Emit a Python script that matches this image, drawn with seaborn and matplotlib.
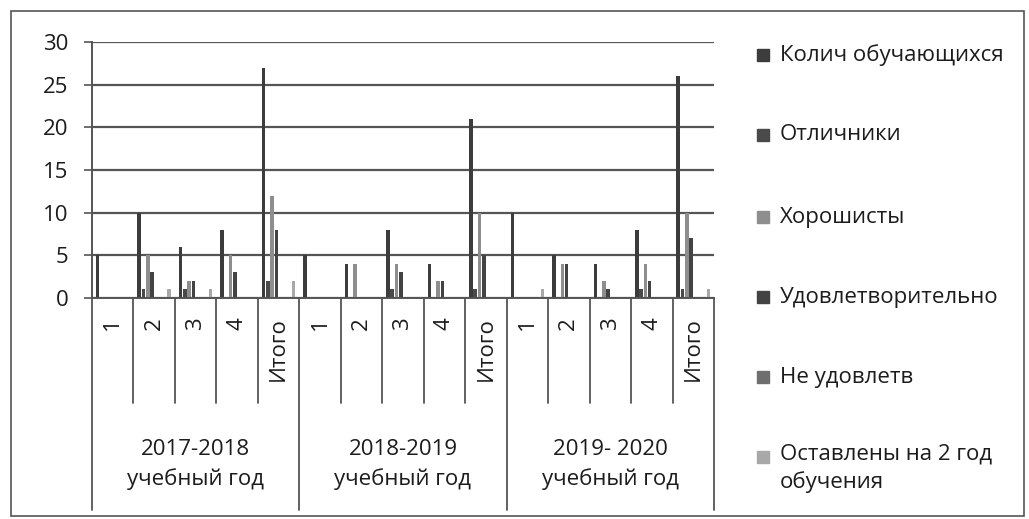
import numpy as np
import pandas as pd
import seaborn as sns
import matplotlib.pyplot as plt
import matplotlib.transforms as mtransforms
from matplotlib.patches import Rectangle

years = ['2017-2018\nучебный год', '2018-2019\nучебный год', '2019- 2020\nучебный год']
classes = ['1', '2', '3', '4', 'Итого']
series = ['Колич обучающихся', 'Отличники', 'Хорошисты', 'Удовлетворительно',
          'Не удовлетв', 'Оставлены на 2 год\nобучения']

count = [5, 10, 6, 8, 27, 5, 4, 8, 4, 21, 10, 5, 4, 8, 26]
excellent = [0, 1, 1, 0, 2, 0, 0, 1, 0, 1, 0, 0, 0, 1, 1]
good = [0, 5, 2, 5, 12, 0, 4, 4, 2, 10, 0, 4, 2, 4, 10]
satisf = [0, 3, 2, 3, 8, 0, 0, 3, 2, 5, 0, 4, 1, 2, 7]
unsatisf = [0, 0, 0, 0, 0, 0, 0, 0, 0, 0, 0, 0, 0, 0, 0]
retained = [0, 1, 1, 0, 2, 0, 0, 0, 0, 0, 1, 0, 0, 0, 1]

colors = ['#3c3c3c', '#4a4a4a', '#8e8e8e', '#434343', '#6e6e6e', '#a8a8a8']
# Excel leaves 8 bar slots per category; the last series sits in the last one
slots = [0, 1, 2, 3, 4, 7]

keys = [f'{y}|{c}' for y in years for c in classes]
values = [count, excellent, good, satisf, unsatisf, retained]
df = pd.DataFrame({
    'cat': keys * len(series),
    'series': np.repeat(series, len(keys)),
    'value': np.concatenate(values),
})

sns.set_theme(style='white')
plt.rcParams['font.family'] = ['Open Sans', 'DejaVu Sans']
fs = 16
txt = '#1c1c1c'

fig = plt.figure(figsize=(10.29, 5.19), dpi=100)
W, H = 1029, 519
ax = fig.add_axes([92 / W, 1 - 298 / H, 622 / W, 256 / H])

sns.barplot(data=df, x='cat', y='value', hue='series', order=keys, hue_order=series,
            palette=colors, saturation=1, legend=False, ax=ax)

step = 0.83 / 8
bw = 0.085
for cont, slot in zip(ax.containers, slots):
    for p in cont.patches:
        j = round(p.get_x() + p.get_width() / 2)
        p.set_x(j + (slot - 3.5) * step - bw / 2)
        p.set_width(bw)
        p.set_edgecolor('none')

ax.set_xlim(-0.5, len(keys) - 0.5)
ax.set_ylim(0, 30)
ax.set_yticks(range(0, 31, 5))
ax.yaxis.grid(True, color='#555555', lw=1.6)
ax.set_axisbelow(True)
ax.tick_params(axis='y', labelsize=fs, length=6, width=1.2, color='#555555',
               pad=11, left=True, labelcolor=txt)
ax.set_xticks(range(len(keys)))
ax.set_xticklabels(classes * len(years), rotation=90, fontsize=fs, color=txt)
ax.tick_params(axis='x', length=0, pad=14)
ax.set_xlabel('')
ax.set_ylabel('')
for s in ['top', 'right']:
    ax.spines[s].set_visible(False)
for s in ['left', 'bottom']:
    ax.spines[s].set_color('#555555')
    ax.spines[s].set_linewidth(1.4)

# multi-level category axis
trans = mtransforms.blended_transform_factory(ax.transData, ax.transAxes)
for b in np.arange(-0.5, len(keys), 1.0):
    outer = (b + 0.5) % len(classes) == 0
    ax.plot([b, b], [0, -0.83 if outer else -0.41], transform=trans, clip_on=False,
            color='#555555', lw=1.3)
for i, y in enumerate(years):
    ax.text(i * len(classes) + 2, -0.65, y, transform=trans, ha='center', va='center',
            fontsize=fs, linespacing=1.5, color=txt)

# legend on the right
leg_y = [55, 135, 217, 297, 377, 457]
for name, col, yy in zip(series, colors, leg_y):
    fig.patches.append(Rectangle((757 / W, 1 - (yy + 6) / H), 12 / W, 12 / H,
                                 transform=fig.transFigure, color=col))
    if '\n' in name:
        fig.text(780 / W, 1 - (yy - 14) / H, name, ha='left', va='top', fontsize=fs,
                 linespacing=1.4, color=txt)
    else:
        fig.text(780 / W, 1 - yy / H, name, ha='left', va='center', fontsize=fs,
                 color=txt)

fig.patches.append(Rectangle((11 / W, 3 / H), 1013 / W, 505 / H, transform=fig.transFigure,
                             fill=False, edgecolor='#555555', lw=1.2))

fig.savefig('out.png', dpi=100)
